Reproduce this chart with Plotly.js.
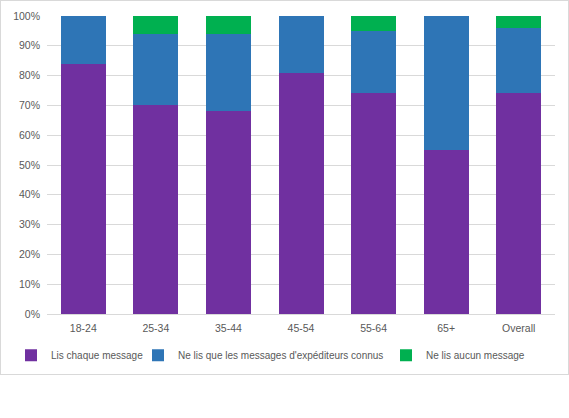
<!DOCTYPE html>
<html>
<head>
<meta charset="utf-8">
<script src="https://cdn.plot.ly/plotly-3.0.1.min.js"></script>
<style>
  body { margin: 0; background: #fff; }
  #chart { width: 567px; height: 373px; border: 1px solid #d9d9d9; }
</style>
</head>
<body>
<div id="chart"></div>
<script>
var groups = ['18-24', '25-34', '35-44', '45-54', '55-64', '65+', 'Overall'];
var readEvery = [84, 70, 68, 81, 74, 55, 74];
var readKnown = [16, 24, 26, 19, 21, 45, 22];
var readNone = [0, 6, 6, 0, 5, 0, 4];
var seriesNames = ['Lis chaque message', "Ne lis que les messages d'expéditeurs connus", 'Ne lis aucun message'];
var seriesColors = ['#7030A0', '#2E75B6', '#00B050'];
var legendIds = ['legend', 'legend2', 'legend3'];

function makeTrace(vals, i) {
    return {
        x: groups,
        y: vals,
        name: seriesNames[i],
        type: 'bar',
        legend: legendIds[i],
        marker: {color: seriesColors[i]}
    };
}

var data = [
    makeTrace(readEvery, 0),
    makeTrace(readKnown, 1),
    makeTrace(readNone, 2)
];

// one legend box per series so they sit on one line like the original
function legendBox(left) {
    return {
        orientation: 'h',
        xref: 'container',
        yref: 'container',
        x: left / 567, xanchor: 'left',
        y: 0.05, yanchor: 'middle',
        itemwidth: 30,
        bgcolor: 'rgba(0,0,0,0)',
        font: {size: 10, color: '#595959'}
    };
}

var layout = {
    barmode: 'stack',
    bargap: 0.38,
    width: 567,
    height: 373,
    margin: {l: 46, r: 13, t: 15, b: 60, autoexpand: false},
    font: {family: 'Liberation Sans, Arial, sans-serif', size: 10, color: '#595959'},
    paper_bgcolor: '#fff',
    plot_bgcolor: '#fff',
    showlegend: true,
    legend: legendBox(10),
    legend2: legendBox(137),
    legend3: legendBox(385),
    xaxis: {
        showline: true,
        linecolor: '#d9d9d9',
        ticks: '',
        ticklabelstandoff: 4,
        tickfont: {size: 10.5}
    },
    yaxis: {
        range: [0, 100],
        dtick: 10,
        ticksuffix: '%',
        gridcolor: '#d9d9d9',
        zeroline: false,
        showline: false,
        ticklabelstandoff: 6,
        tickfont: {size: 10.5}
    },
    hovermode: false
};

Plotly.newPlot('chart', data, layout, {displayModeBar: false, staticPlot: true});
</script>
</body>
</html>
